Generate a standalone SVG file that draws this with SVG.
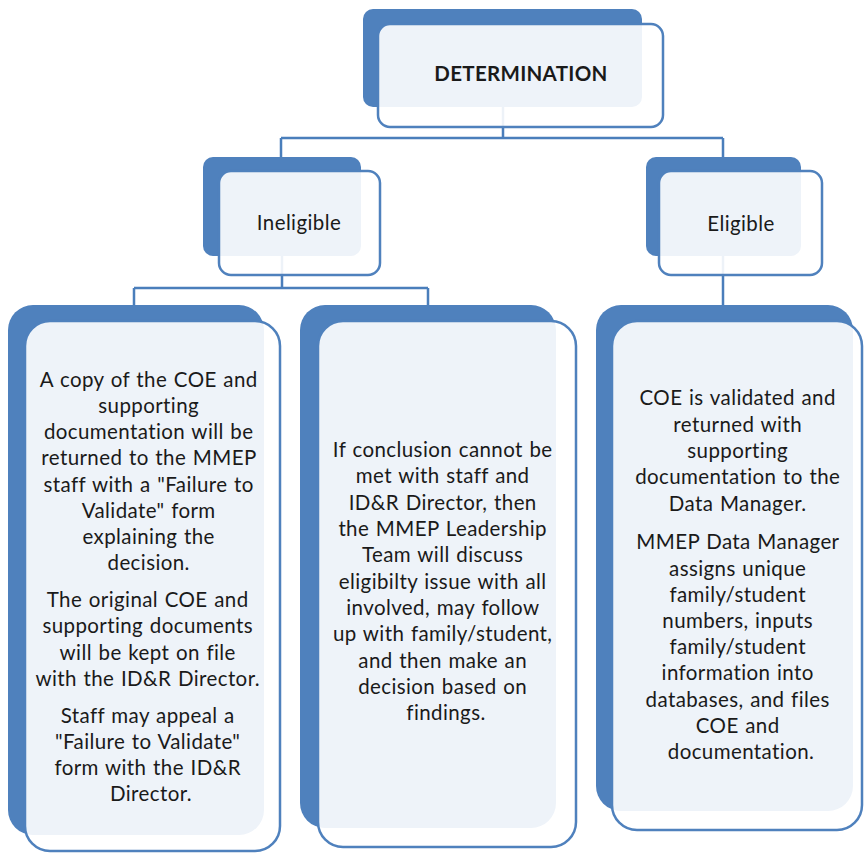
<svg xmlns="http://www.w3.org/2000/svg" width="864" height="853" viewBox="0 0 864 853">
<style>
.back{fill:#4F81BD;}
.front{fill:#FFFFFF;fill-opacity:0.9;stroke:#4F81BD;stroke-width:2.5;}
.conn{fill:none;stroke:#4A7EBB;stroke-width:2.5;}
text{font-family:Lato,"Noto Sans","Liberation Sans",sans-serif;fill:#1a1a1a;text-anchor:middle;}
.title{font-size:20.5px;font-weight:bold;letter-spacing:0.3px;}
.label{font-size:20.5px;letter-spacing:0.4px;}
.body{font-size:20.5px;letter-spacing:0.4px;word-spacing:1px;}
</style>
<rect width="864" height="853" fill="#FFFFFF"/>
<g id="connectors">
<path class="conn" d="M503,107 V138 M281,138 H723 M281,138 V157 M723,138 V157"/>
<path class="conn" d="M282,256 V288 M134,288 H428 M134,288 V305 M428,288 V305"/>
<path class="conn" d="M723,256 V305"/>
</g>
<g id="determination">
<rect class="back" x="363" y="9" width="279" height="98" rx="10"/>
<rect class="front" x="378" y="24" width="285" height="103" rx="12"/>
<text class="title" x="521" y="81">DETERMINATION</text>
</g>
<g id="ineligible">
<rect class="back" x="203" y="157" width="158" height="99" rx="10"/>
<rect class="front" x="219" y="171" width="161" height="104" rx="12"/>
<text class="label" x="299" y="230">Ineligible</text>
</g>
<g id="eligible">
<rect class="back" x="646" y="157" width="155" height="99" rx="10"/>
<rect class="front" x="659" y="171" width="163" height="104" rx="12"/>
<text class="label" x="741" y="231">Eligible</text>
</g>
<g id="failure-to-validate">
<rect class="back" x="8" y="305" width="256" height="530" rx="25"/>
<rect class="front" x="25" y="321" width="255" height="530" rx="25"/>
<text class="body">
<tspan x="152" y="387">A copy of the COE and</tspan>
<tspan x="152" y="413">supporting</tspan>
<tspan x="152" y="439">documentation will be</tspan>
<tspan x="152" y="465">returned to the MMEP</tspan>
<tspan x="152" y="492">staff with a "Failure to</tspan>
<tspan x="152" y="518">Validate" form</tspan>
<tspan x="152" y="544">explaining the</tspan>
<tspan x="152" y="570">decision.</tspan>
<tspan x="151" y="607">The original COE and</tspan>
<tspan x="151" y="633">supporting documents</tspan>
<tspan x="151" y="660">will be kept on file</tspan>
<tspan x="151" y="686">with the ID&amp;R Director.</tspan>
<tspan x="151" y="723">Staff may appeal a</tspan>
<tspan x="151" y="749">"Failure to Validate"</tspan>
<tspan x="151" y="775">form with the ID&amp;R</tspan>
<tspan x="151" y="801">Director.</tspan>
</text>
</g>
<g id="leadership-review">
<rect class="back" x="300" y="305" width="256" height="523" rx="25"/>
<rect class="front" x="318" y="321" width="258" height="526" rx="25"/>
<text class="body">
<tspan x="446" y="457">If conclusion cannot be</tspan>
<tspan x="446" y="483">met with staff and</tspan>
<tspan x="446" y="510">ID&amp;R Director, then</tspan>
<tspan x="446" y="536">the MMEP Leadership</tspan>
<tspan x="446" y="562">Team will discuss</tspan>
<tspan x="446" y="589">eligibilty issue with all</tspan>
<tspan x="446" y="615">involved, may follow</tspan>
<tspan x="446" y="641">up with family/student,</tspan>
<tspan x="446" y="668">and then make an</tspan>
<tspan x="446" y="694">decision based on</tspan>
<tspan x="446" y="720">findings.</tspan>
</text>
</g>
<g id="validated">
<rect class="back" x="596" y="305" width="257" height="506" rx="25"/>
<rect class="front" x="612" y="321" width="250" height="509" rx="25"/>
<text class="body">
<tspan x="741" y="405">COE is validated and</tspan>
<tspan x="741" y="432">returned with</tspan>
<tspan x="741" y="458">supporting</tspan>
<tspan x="741" y="484">documentation to the</tspan>
<tspan x="741" y="511">Data Manager.</tspan>
<tspan x="741" y="549">MMEP Data Manager</tspan>
<tspan x="741" y="576">assigns unique</tspan>
<tspan x="741" y="602">family/student</tspan>
<tspan x="741" y="628">numbers, inputs</tspan>
<tspan x="741" y="654">family/student</tspan>
<tspan x="741" y="680">information into</tspan>
<tspan x="741" y="707">databases, and files</tspan>
<tspan x="741" y="733">COE and</tspan>
<tspan x="741" y="759">documentation.</tspan>
</text>
</g>
</svg>
